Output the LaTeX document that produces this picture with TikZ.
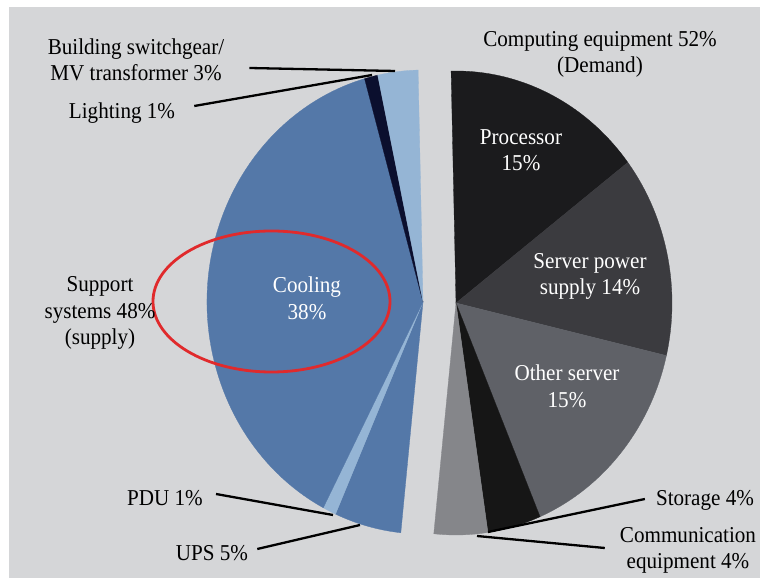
\documentclass[tikz,border=0pt]{standalone}
\usepackage{fontspec}
\setmainfont{Liberation Serif}[FakeStretch=0.93]
\usetikzlibrary{positioning}
\definecolor{bggray}{RGB}{213,214,216}
\definecolor{coolblue}{RGB}{84,120,168}
\definecolor{paleblue}{RGB}{149,181,213}
\definecolor{navyblk}{RGB}{11,15,46}
\definecolor{procblk}{RGB}{27,27,29}
\definecolor{spsgray}{RGB}{59,59,63}
\definecolor{othgray}{RGB}{95,97,103}
\definecolor{storblk}{RGB}{22,22,22}
\definecolor{commgray}{RGB}{133,134,138}
\definecolor{ringred}{RGB}{224,42,44}

\begin{document}
\begin{tikzpicture}[x=1pt, y=1pt,
	lbl/.style={align=center, font=\fontsize{22.7}{26.5}\selectfont, inner sep=3pt},
	inlbl/.style={lbl, text=white},
	leader/.style={line width=2.3pt, black}]
	\fill[white] (0,0) rectangle (760,578);
	\fill[bggray] (9,0) rectangle (760,571);
	% demand half
	\foreach \s/\e/\c in {91.3/37.3/procblk, 37.3/-13.1/spsgray, -13.1/-67.1/othgray, -67.1/-81.5/storblk, -81.5/-95.9/commgray}
		\filldraw[fill=\c, draw=\c, line width=0.3pt] (456,275) -- ++(\s:216 and 232) arc[start angle=\s, end angle=\e, x radius=216, y radius=232] -- cycle;
	% supply half
	\foreach \s/\e/\c in {-95.9/-113.9/coolblue, -113.9/-117.5/paleblue, -117.5/-254.3/coolblue, -254.3/-257.9/navyblk, -257.9/-268.7/paleblue}
		\filldraw[fill=\c, draw=\c, line width=0.3pt] (423,276) -- ++(\s:216 and 232) arc[start angle=\s, end angle=\e, x radius=216, y radius=232] -- cycle;
	
	\draw[ringred, line width=2.8pt] (271.5,276.5) ellipse [x radius=118.5, y radius=70.5];
	
	\node[lbl] (build) at (136,518) {Building switchgear/\\MV transformer 3\%};
	\node[lbl] (light) at (122,465) {Lighting 1\%};
	\node[lbl] (comp) at (600,523.5) {Computing equipment 52\%\\(Demand)};
	\node[inlbl] (proc) at (521,428) {Processor\\15\%};
	\node[inlbl] (sps) at (590,301.5) {Server power\\supply 14\%};
	\node[inlbl] (oth) at (567,191.5) {Other server\\15\%};
	\node[inlbl] (cool) at (307,279.5) {Cooling\\38\%};
	\node[lbl] (supp) at (100,265) {Support\\systems 48\%\\(supply)};
	\node[lbl] (pdu) at (165,80) {PDU 1\%};
	\node[lbl] (ups) at (212,25) {UPS 5\%};
	\node[lbl] (stor) at (705,78) {Storage 4\%};
	\node[lbl] (comm) at (688,27.5) {Communication\\equipment 4\%};
	
	\coordinate (buildtip) at (395,507);
	\coordinate (lighttip) at (372,503);
	\coordinate (pdutip) at (333,63);
	\coordinate (upstip) at (360,53);
	\coordinate (stortip) at (488,46);
	\coordinate (commtip) at (477,42);
	
	\draw[leader] ([xshift=22pt,yshift=-8pt]build.east) -- (buildtip);
	\draw[leader] ([xshift=16pt,yshift=7pt]light.east) -- (lighttip);
	\draw[leader] ([xshift=10pt,yshift=4pt]pdu.east) -- (pdutip);
	\draw[leader] ([xshift=6pt,yshift=4pt]ups.east) -- (upstip);
	\draw[leader] ([xshift=-8pt,yshift=1pt]stor.west) -- (stortip);
	\draw[leader] ([xshift=-12pt,yshift=2.5pt]comm.west) -- (commtip);
\end{tikzpicture}
\end{document}
